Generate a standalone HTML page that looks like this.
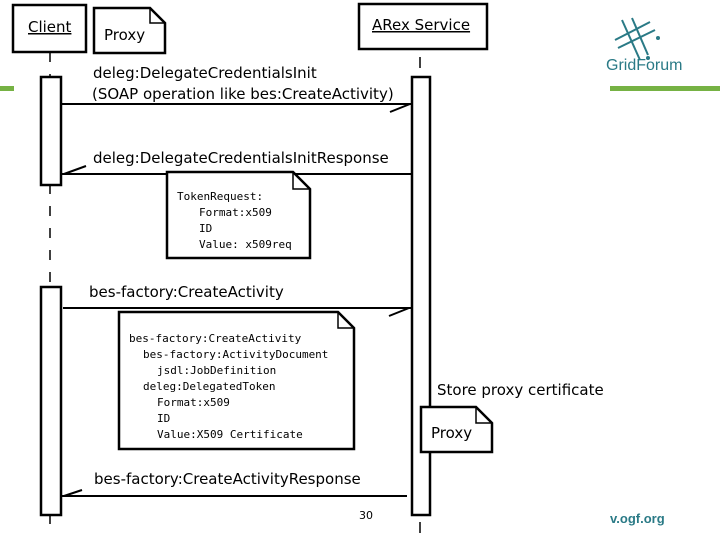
<!DOCTYPE html>
<html><head><meta charset="utf-8"><style>body{margin:0;background:#fff}svg{display:block}</style></head><body>
<svg width="720" height="540" viewBox="0 0 720 540" xmlns="http://www.w3.org/2000/svg" font-family="DejaVu Sans, Liberation Sans, sans-serif">
<rect x="0" y="86" width="14" height="5" fill="#76b244"/>
<rect x="610" y="86" width="110" height="5" fill="#76b244"/>
<g stroke="#2a7a86" stroke-width="2" fill="none">
<line x1="615" y1="40" x2="650" y2="22"/><line x1="618" y1="48" x2="655" y2="30"/><line x1="622" y1="20" x2="640" y2="60"/><line x1="632" y1="18" x2="648" y2="55"/>
</g>
<circle cx="658" cy="38" r="2" fill="#2a7a86"/><circle cx="648" cy="58" r="2" fill="#2a7a86"/>
<text x="606" y="70" font-size="16" fill="#2a7a86" font-family="Liberation Sans, sans-serif">GridForum</text>
<text x="610" y="523" font-size="13" fill="#2a7a86" font-weight="bold" font-family="Liberation Sans, sans-serif">v.ogf.org</text>
<g stroke="#000" stroke-width="2.5" fill="#fff">
<rect x="13" y="5" width="73" height="47"/>
<path d="M94 8 H150 L165 23 V53 H94 Z"/>
<path d="M150 8 V23 H165" fill="none" stroke-width="1.5"/>
<rect x="359" y="4" width="128" height="45"/>
</g>
<line x1="50" y1="52" x2="50" y2="530" stroke="#000" stroke-width="1.5" stroke-dasharray="10,12"/>
<line x1="420" y1="57" x2="420" y2="68" stroke="#000" stroke-width="1.5"/>
<line x1="420" y1="522" x2="420" y2="533" stroke="#000" stroke-width="1.5"/>
<g stroke="#000" stroke-width="2.5" fill="#fff">
<rect x="41" y="77" width="20" height="108"/>
<rect x="41" y="287" width="20" height="228"/>
<rect x="412" y="77" width="18" height="438"/>
</g>
<g stroke="#000" stroke-width="2" fill="none">
<line x1="61" y1="104" x2="413" y2="104"/><line x1="390" y1="112" x2="410" y2="104"/>
<line x1="61" y1="174" x2="411" y2="174"/><line x1="64" y1="174" x2="86" y2="166"/>
<line x1="63" y1="308" x2="412" y2="308"/><line x1="389" y1="316" x2="409" y2="308"/>
<line x1="61" y1="496" x2="407" y2="496"/><line x1="64" y1="496" x2="82" y2="490"/>
</g>
<g stroke="#000" stroke-width="2.5" fill="#fff">
<path d="M167 172 H293 L310 189 V258 H167 Z"/>
<path d="M293 172 V189 H310" fill="none" stroke-width="1.5"/>
<path d="M119 312 H338 L354 328 V449 H119 Z"/>
<path d="M338 312 V328 H354" fill="none" stroke-width="1.5"/>
<path d="M421 407 H476 L492 423 V452 H421 Z"/>
<path d="M476 407 V423 H492" fill="none" stroke-width="1.5"/>
</g>
<g font-size="15" fill="#000">
<text x="28" y="32" text-decoration="underline">Client</text>
<text x="104" y="40">Proxy</text>
<text x="372" y="30" text-decoration="underline">ARex Service</text>
<text x="93" y="78">deleg:DelegateCredentialsInit</text>
<text x="92" y="99">(SOAP operation like bes:CreateActivity)</text>
<text x="93" y="163">deleg:DelegateCredentialsInitResponse</text>
<text x="89" y="297">bes-factory:CreateActivity</text>
<text x="437" y="395">Store proxy certificate</text>
<text x="431" y="438">Proxy</text>
<text x="94" y="484">bes-factory:CreateActivityResponse</text>
</g>
<text x="359" y="519" font-size="11" fill="#000">30</text>
<g font-family="DejaVu Sans Mono, Liberation Mono, monospace" font-size="11" fill="#000">
<text x="177" y="200">TokenRequest:</text>
<text x="199" y="216">Format:x509</text>
<text x="199" y="232">ID</text>
<text x="199" y="248">Value: x509req</text>
<text x="129" y="342">bes-factory:CreateActivity</text>
<text x="143" y="358">bes-factory:ActivityDocument</text>
<text x="157" y="374">jsdl:JobDefinition</text>
<text x="143" y="390">deleg:DelegatedToken</text>
<text x="157" y="406">Format:x509</text>
<text x="157" y="422">ID</text>
<text x="157" y="438">Value:X509 Certificate</text>
</g>
</svg>
</body></html>
